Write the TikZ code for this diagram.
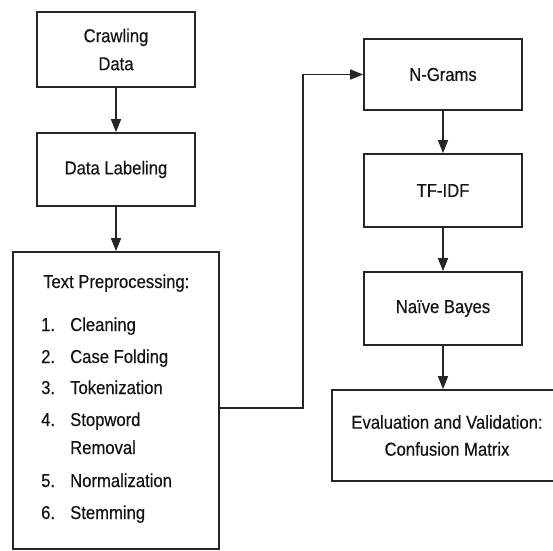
\documentclass[tikz,border=0pt]{standalone}
\usepackage{fontspec}
\setmainfont{Liberation Sans}[FakeStretch=0.89,FakeBold=0.4]
\usetikzlibrary{arrows.meta}
\definecolor{linec}{HTML}{262626}
\definecolor{textc}{HTML}{141414}
\begin{document}
\begin{tikzpicture}[x=1pt,y=-1pt,
  box/.style={draw=linec, line width=1.7pt, rectangle, inner sep=0pt, align=center,
    text=textc, font=\fontsize{18.7}{28}\selectfont},
  lbl/.style={anchor=base west, inner sep=0pt, text=textc, font=\fontsize{18.7}{22}\selectfont},
  arr/.style={draw=linec, line width=1.5pt, -{Triangle[length=13pt,width=10pt]}}]
\useasboundingbox (0,0) rectangle (553,550);
\clip (0,0) rectangle (553,550);
\fill[white] (0,0) rectangle (553,550);
% left column
\node[box, minimum width=158, minimum height=75] (cd) at (116,49.5) {Crawling\\Data};
\node[box, minimum width=158, minimum height=73] (dl) at (116,169.5) {Data Labeling};
\node[box, minimum width=206, minimum height=297] (tp) at (116,400.5) {};
\node[lbl] (tph) at (43,288) {Text Preprocessing:};
\node[lbl] (n1) at (41,331) {1.};
\node[lbl] (t1) at (70,331) {Cleaning};
\node[lbl] (n2) at (41,363) {2.};
\node[lbl] (t2) at (70,363) {Case Folding};
\node[lbl] (n3) at (41,394) {3.};
\node[lbl] (t3) at (70,394) {Tokenization};
\node[lbl] (n4) at (41,426) {4.};
\node[lbl] (t4) at (70,426) {Stopword};
\node[lbl] (t4b) at (70,454) {Removal};
\node[lbl] (n5) at (41,487) {5.};
\node[lbl] (t5) at (70,487) {Normalization};
\node[lbl] (n6) at (41,519) {6.};
\node[lbl] (t6) at (70,519) {Stemming};
% right column
\node[box, minimum width=158, minimum height=71] (ng) at (443,74.5) {N-Grams};
\node[box, minimum width=158, minimum height=73] (tf) at (443,190.5) {TF-IDF};
\node[box, minimum width=158, minimum height=73] (nb) at (443,308.5) {Naïve Bayes};
\node[box, minimum width=222, minimum height=91] (ev) at (443,435.5) {};
\node[lbl, anchor=center, align=center, font=\fontsize{18.7}{27}\selectfont] (evt) at (447,435.5) {Evaluation and Validation:\\Confusion Matrix};
% connectors
\draw[arr] (cd.south) -- (dl.north);
\draw[arr] (dl.south) -- (tp.north);
\draw[arr] ([yshift=-7.5pt]tp.east) -- ++(83,0) |- (ng.west);
\draw[arr] (ng.south) -- (tf.north);
\draw[arr] (tf.south) -- (nb.north);
\draw[arr] (nb.south) -- (ev.north);
\end{tikzpicture}
\end{document}
